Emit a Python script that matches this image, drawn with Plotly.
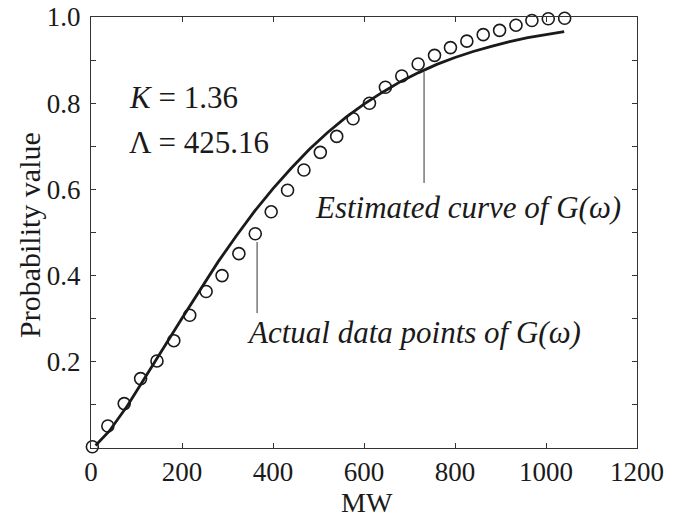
import plotly.graph_objects as go

# Actual data points of G(w)
pts_mw = [3, 37, 73, 109, 145, 182, 217, 253, 288, 325, 361, 396, 432, 468, 504,
          540, 576, 612, 647, 683, 719, 755, 790, 826, 862, 898, 934, 969, 1005, 1041]
pts_prob = [0.003, 0.051, 0.103, 0.161, 0.202, 0.249, 0.308, 0.363, 0.400, 0.451,
            0.497, 0.548, 0.598, 0.645, 0.686, 0.723, 0.764, 0.800, 0.837, 0.863,
            0.891, 0.911, 0.929, 0.944, 0.959, 0.969, 0.981, 0.992, 0.996, 0.997]

# Estimated curve of G(w)
curve_mw = [10, 40, 80, 120, 160, 200, 240, 280, 320, 360, 400, 440, 480, 520, 560,
            600, 640, 680, 720, 760, 800, 840, 880, 920, 960, 1000, 1040]
curve_prob = [0.006, 0.039, 0.098, 0.164, 0.233, 0.301, 0.368, 0.433, 0.493, 0.550,
              0.602, 0.649, 0.693, 0.732, 0.767, 0.798, 0.825, 0.850, 0.871, 0.890,
              0.906, 0.920, 0.932, 0.943, 0.952, 0.959, 0.966]

x_ticks = [0, 200, 400, 600, 800, 1000, 1200]
y_ticks = [0, 0.1, 0.2, 0.3, 0.4, 0.5, 0.6, 0.7, 0.8, 0.9, 1.0]
y_ticktext = ["", "", "0.2", "", "0.4", "", "0.6", "", "0.8", "", "1.0"]

FONT = "Liberation Serif"
INK = "#1a1a1a"

fig = go.Figure()
fig.add_trace(go.Scatter(x=curve_mw, y=curve_prob, mode="lines",
                         line=dict(color=INK, width=2.8), showlegend=False,
                         cliponaxis=False))
fig.add_trace(go.Scatter(x=pts_mw, y=pts_prob, mode="markers",
                         marker=dict(symbol="circle-open", size=12, color=INK,
                                     line=dict(width=1.6, color=INK)),
                         showlegend=False, cliponaxis=False))

# pointer lines
fig.add_shape(type="line", x0=365, x1=365, y0=0.478, y1=0.313,
              line=dict(color="#333", width=1))
fig.add_shape(type="line", x0=732, x1=732, y0=0.872, y1=0.615,
              line=dict(color="#333", width=1))

ann = [
    dict(x=79, y=0.814, text="<i>K</i> = 1.36", xanchor="left", yanchor="middle",
         xref="x", yref="y", showarrow=False, font=dict(size=31, family=FONT, color=INK)),
    dict(x=79, y=0.708, text="Λ = 425.16", xanchor="left", yanchor="middle",
         xref="x", yref="y", showarrow=False, font=dict(size=31, family=FONT, color=INK)),
    dict(x=488, y=0.557, text="<i>Estimated curve of G(ω)</i>", xanchor="left",
         yanchor="middle", xref="x", yref="y", showarrow=False,
         font=dict(size=31, family=FONT, color=INK)),
    dict(x=338, y=0.269, text="<i>Actual data points of G(ω)</i>", xanchor="left",
         yanchor="middle", xref="x", yref="y", showarrow=False,
         font=dict(size=31, family=FONT, color=INK)),
    dict(x=367, y=503, text="MW", xref="paper", yref="paper", showarrow=False,
         xanchor="center", yanchor="middle",
         font=dict(size=28, family=FONT, color=INK)),
    dict(x=29, y=235, text="Probability value", textangle=-90, xref="paper",
         yref="paper", showarrow=False, xanchor="center", yanchor="middle",
         font=dict(size=30, family=FONT, color=INK)),
]

# convert pixel-positioned annotations into paper coordinates
L, R, T, B = 91, 49, 17, 69
W, H = 686, 517
pw, ph = W - L - R, H - T - B
for a in ann:
    if a["xref"] == "paper":
        a["x"] = (a["x"] - L) / pw
        a["y"] = (H - B - a["y"]) / ph
fig.update_layout(annotations=ann)

fig.update_layout(
    width=W, height=H,
    margin=dict(l=L, r=R, t=T, b=B, pad=0, autoexpand=False),
    paper_bgcolor="white", plot_bgcolor="white",
    font=dict(family=FONT, color=INK),
    xaxis=dict(range=[0, 1200], tickvals=x_ticks, ticks="inside", ticklen=5,
               tickcolor="#333", showline=True, linecolor="#333", linewidth=1,
               mirror="ticks", showgrid=False, zeroline=False,
               tickfont=dict(size=27, family=FONT, color=INK), ticklabelstandoff=0),
    yaxis=dict(range=[0, 1.0], tickvals=y_ticks, ticktext=y_ticktext, ticks="inside",
               ticklen=5, tickcolor="#333", showline=True, linecolor="#333",
               linewidth=1, mirror="ticks", showgrid=False, zeroline=False,
               tickfont=dict(size=27, family=FONT, color=INK), ticklabelstandoff=4),
)

fig.write_html("out.html", config={"displayModeBar": False},
               post_script="document.body.style.margin='0';")
